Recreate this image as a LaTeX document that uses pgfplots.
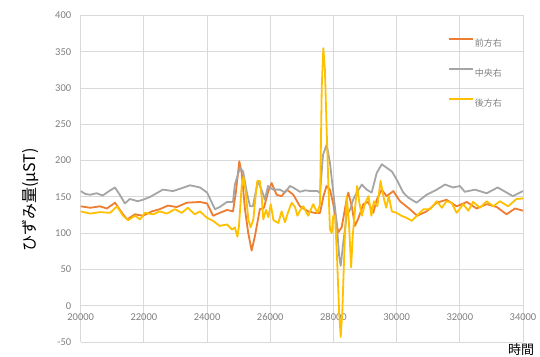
\documentclass[border=0pt]{standalone}
\usepackage{pgfplots}
\pgfplotsset{compat=1.18}
\usepackage{fontspec}
\setmainfont{Carlito}
\newfontfamily\jp{Noto Sans CJK JP}
\definecolor{cOrange}{HTML}{ED7D31}
\definecolor{cGray}{HTML}{A5A5A5}
\definecolor{cGold}{HTML}{FFC000}
\definecolor{gridc}{HTML}{D9D9D9}
\definecolor{tickc}{HTML}{7F7F7F}
\begin{document}
\begin{tikzpicture}
\begin{axis}[
 scale only axis, width=442.3pt, height=326.5pt,
 xmin=20000, xmax=34000, ymin=-50, ymax=400,
 xtick={20000,22000,...,34000}, ytick={-50,0,...,400},
 scaled x ticks=false, scaled y ticks=false,
 axis x line=middle, axis y line=left,
 axis line style={-, draw=gridc, line width=0.8pt},
 hide obscured x ticks=false, hide obscured y ticks=false,
 grid=major, major grid style={draw=gridc, line width=0.8pt},
 major tick length=0pt,
 tick label style={font=\fontsize{10.5}{12}\selectfont, text=tickc},
 /pgf/number format/assume math mode=true,
 /pgf/number format/1000 sep={},
 xticklabel style={yshift=-4pt},
 yticklabel style={xshift=-6pt},
 legend style={at={(rel axis cs:0.9548,0.932)}, anchor=north east, draw=none, fill=none,
   inner sep=0pt, row sep=19pt, font=\jp\fontsize{9}{9}\selectfont, text=tickc,
   nodes={inner sep=1pt, text height=8pt, text depth=1pt}},
 legend cell align=left,
 legend image code/.code={\draw[#1] (0pt,4pt) -- (24pt,4pt);},
 every axis plot/.append style={line width=1.8pt, line join=round},
]
\addplot[cOrange] coordinates {
(20000,137)(20300,135)(20610,137)(20830,134)(21085,142)(21340,126)(21470,119)(21720,126)
(21970,124)(22250,130)(22500,133)(22760,138)(23040,136)(23360,142)(23775,143)(24000,141)
(24190,124)(24400,128)(24630,132)(24820,130)(24910,156)(25020,199)(25095,183)(25200,133)
(25300,101)(25410,76)(25515,96)(25670,133)(25800,135)(25940,158)(26045,169)(26200,153)
(26360,151)(26520,160)(26730,153)(26940,137)(27200,130)(27400,128)(27575,128)(27680,150)
(27780,165)(27890,160)(27995,140)(28150,101)(28260,108)(28420,147)(28470,156)(28580,137)
(28680,110)(28785,120)(28945,140)(29100,143)(29260,128)(29370,146)(29525,160)(29685,151)
(29895,158)(30105,144)(30420,133)(30650,124)(30950,130)(31270,142)(31580,146)(31900,137)
(32220,143)(32530,134)(32850,140)(33170,136)(33480,126)(33745,134)(34000,131)
};
\addlegendentry{前方右}
\addplot[cGray] coordinates {
(20000,158)(20150,154)(20300,153)(20500,155)(20700,152)(20900,158)(21085,163)(21250,152)
(21400,141)(21550,147)(21650,146)(21800,144)(21970,146)(22200,150)(22400,155)(22600,160)
(22920,158)(23200,162)(23460,166)(23775,163)(24000,156)(24250,133)(24400,136)(24630,143)
(24820,143)(24880,167)(25040,190)(25140,185)(25260,156)(25360,137)(25450,137)(25610,172)
(25740,158)(25830,146)(25930,165)(26090,160)(26300,160)(26470,156)(26620,165)(26720,163)
(26940,157)(27100,159)(27300,158)(27500,158)(27575,155)(27670,208)(27785,222)(27890,197)
(27995,156)(28100,115)(28180,69)(28230,55)(28310,87)(28420,124)(28530,133)(28630,147)
(28740,156)(28900,167)(29050,160)(29210,156)(29370,183)(29530,195)(29690,190)(29850,185)
(30000,174)(30210,156)(30370,149)(30630,142)(30950,153)(31270,160)(31530,167)(31790,163)
(32000,165)(32160,157)(32480,160)(32850,155)(33200,163)(33680,151)(34000,158)
};
\addlegendentry{中央右}
\addplot[cGold] coordinates {
(20000,130)(20300,127)(20610,129)(20930,128)(21150,137)(21340,124)(21500,118)(21720,124)
(21880,119)(22030,128)(22290,126)(22500,130)(22730,127)(22980,133)(23200,128)(23390,135)
(23610,126)(23775,130)(24000,121)(24190,117)(24400,110)(24630,112)(24790,105)(24880,108)
(24960,95)(25010,110)(25095,165)(25150,178)(25225,156)(25305,119)(25380,108)(25465,119)
(25540,153)(25590,172)(25670,172)(25735,147)(25780,119)(25865,132)(25940,122)(26015,140)
(26100,118)(26255,114)(26360,130)(26465,115)(26550,127)(26680,142)(26785,136)(26860,124)
(26940,131)(27045,137)(27200,124)(27360,140)(27490,128)(27575,140)(27630,302)(27680,355)
(27730,325)(27785,243)(27840,165)(27890,105)(27945,100)(27995,124)(28050,124)(28120,60)
(28180,-9)(28230,-43)(28280,-9)(28350,82)(28420,151)(28490,115)(28560,53)(28610,96)
(28690,137)(28750,165)(28820,142)(28900,124)(29010,142)(29110,151)(29200,124)(29280,144)
(29390,137)(29490,172)(29600,147)(29670,135)(29750,151)(29850,130)(30000,128)(30150,124)
(30320,121)(30480,117)(30640,124)(30850,133)(31060,133)(31270,144)(31430,135)(31580,144)
(31740,142)(31900,128)(32110,140)(32270,131)(32420,143)(32640,135)(32850,144)(33060,137)
(33270,144)(33530,137)(33790,147)(34000,148)
};
\addlegendentry{後方右}
\end{axis}
\node[rotate=90, font=\jp\fontsize{16}{16}\selectfont, inner sep=0pt] at ([xshift=-50.7pt,yshift=142pt]current axis.south west) {ひずみ量(μST)};
\node[anchor=south, font=\jp\fontsize{13}{13}\selectfont, inner sep=0pt] at ([xshift=-2pt,yshift=-13.5pt]current axis.south east) {時間};
\path ([xshift=-80.7pt,yshift=-14pt]current axis.south west) rectangle ([xshift=17pt,yshift=15.5pt]current axis.north east);
\end{tikzpicture}
\end{document}
